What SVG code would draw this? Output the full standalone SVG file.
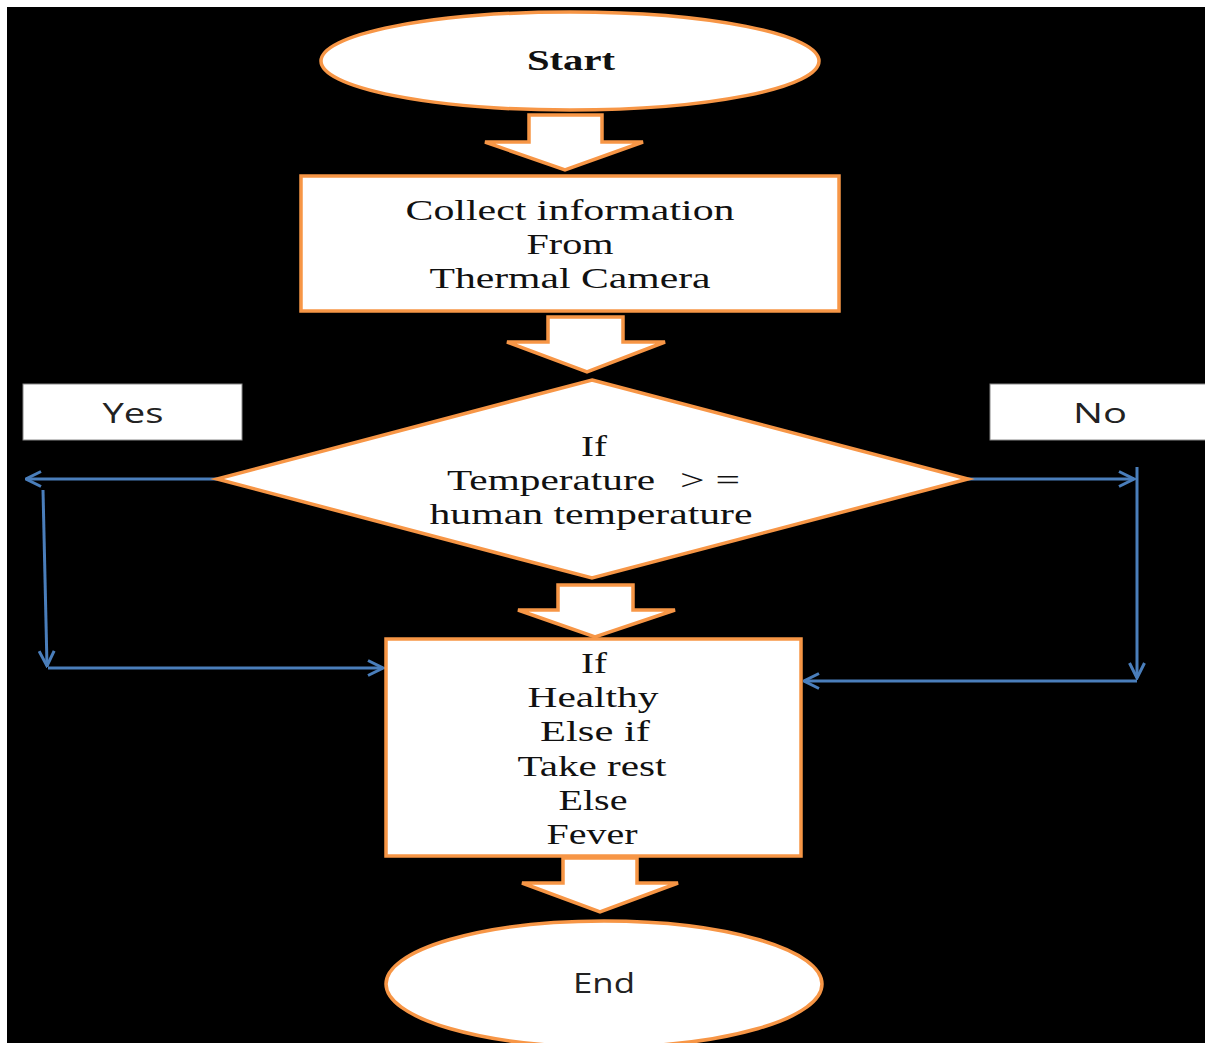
<svg xmlns="http://www.w3.org/2000/svg" width="1205" height="1043" viewBox="0 0 1205 1043">
<defs>
<style>
.shape{fill:#fff;stroke:#F79646;stroke-width:3.5}
.serif{font-family:"Liberation Serif","Times New Roman",serif;font-size:30px;fill:#111;text-anchor:middle}
.sans{font-family:"Open Sans","DejaVu Sans",sans-serif;font-size:28px;fill:#222;text-anchor:middle}
.lbl{fill:#fff;stroke:#888;stroke-width:1}
.conn{fill:none;stroke:#4A7EBB;stroke-width:3}
</style>
<marker id="ah" viewBox="0 0 12 12" refX="11" refY="6" markerWidth="6" markerHeight="6" orient="auto" markerUnits="strokeWidth">
<path d="M1,1 L11,6 L1,11" fill="none" stroke="#4A7EBB" stroke-width="2"/>
</marker>
</defs>
<rect x="0" y="0" width="1205" height="1043" fill="#fff"/>
<rect x="7" y="7" width="1198" height="1036" fill="#000"/>

<g id="connectors">
<path class="conn" d="M217,479 L26,479" marker-end="url(#ah)"/>
<path class="conn" d="M43,490 L47,666" marker-end="url(#ah)"/>
<path class="conn" d="M48,668 L383,668" marker-end="url(#ah)"/>
<path class="conn" d="M968,479 L1134,479" marker-end="url(#ah)"/>
<path class="conn" d="M1137,467 L1137,678" marker-end="url(#ah)"/>
<path class="conn" d="M1137,681 L804,681" marker-end="url(#ah)"/>
<path class="shape" d="M529,115 L602,115 L602,142 L643,142 L565,170 L485,142 L529,142 Z"/>
<path class="shape" d="M548,317 L623,317 L623,342 L665,342 L587,372 L507,342 L548,342 Z"/>
<path class="shape" d="M558,585 L633,585 L633,610 L675,610 L595,637 L518,610 L558,610 Z"/>
<path class="shape" d="M563,858 L637,858 L637,883 L678,883 L600,912 L522,883 L563,883 Z"/>
</g>

<g id="start">
<ellipse class="shape" cx="570" cy="61" rx="249" ry="49"/>
<text class="serif" x="571" y="70" font-weight="bold" textLength="88" lengthAdjust="spacingAndGlyphs">Start</text>
</g>

<g id="collect">
<rect class="shape" x="301" y="176" width="538" height="135"/>
<text class="serif" x="570" y="220" textLength="329" lengthAdjust="spacingAndGlyphs">Collect information</text>
<text class="serif" x="570" y="254" textLength="87" lengthAdjust="spacingAndGlyphs">From</text>
<text class="serif" x="570" y="288" textLength="281" lengthAdjust="spacingAndGlyphs">Thermal Camera</text>
</g>

<g id="decision">
<polygon class="shape" points="592,380 968,479 592,578 217,479"/>
<text class="serif" x="594" y="456" textLength="26" lengthAdjust="spacingAndGlyphs">If</text>
<text class="serif" y="490" style="text-anchor:start"><tspan x="447" textLength="208" lengthAdjust="spacingAndGlyphs">Temperature</tspan><tspan x="680" textLength="60" lengthAdjust="spacingAndGlyphs">&gt; =</tspan></text>
<text class="serif" x="591" y="524" textLength="323" lengthAdjust="spacingAndGlyphs">human temperature</text>
</g>

<g id="yes">
<rect class="lbl" x="23" y="384" width="219" height="56"/>
<text class="sans" x="133" y="423" textLength="61" lengthAdjust="spacingAndGlyphs">Yes</text>
</g>

<g id="no">
<rect class="lbl" x="990" y="384" width="216" height="56"/>
<text class="sans" x="1100" y="423" textLength="54" lengthAdjust="spacingAndGlyphs">No</text>
</g>

<g id="result">
<rect class="shape" x="386" y="639" width="415" height="217"/>
<text class="serif" x="594" y="673" textLength="26" lengthAdjust="spacingAndGlyphs">If</text>
<text class="serif" x="593" y="707" textLength="131" lengthAdjust="spacingAndGlyphs">Healthy</text>
<text class="serif" x="595" y="741" textLength="110" lengthAdjust="spacingAndGlyphs">Else if</text>
<text class="serif" x="592" y="776" textLength="149" lengthAdjust="spacingAndGlyphs">Take rest</text>
<text class="serif" x="593" y="810" textLength="69" lengthAdjust="spacingAndGlyphs">Else</text>
<text class="serif" x="592" y="844" textLength="91" lengthAdjust="spacingAndGlyphs">Fever</text>
</g>

<g id="end">
<ellipse class="shape" cx="604" cy="984" rx="218" ry="63"/>
<text class="sans" x="604" y="993" textLength="62" lengthAdjust="spacingAndGlyphs">End</text>
</g>
</svg>
